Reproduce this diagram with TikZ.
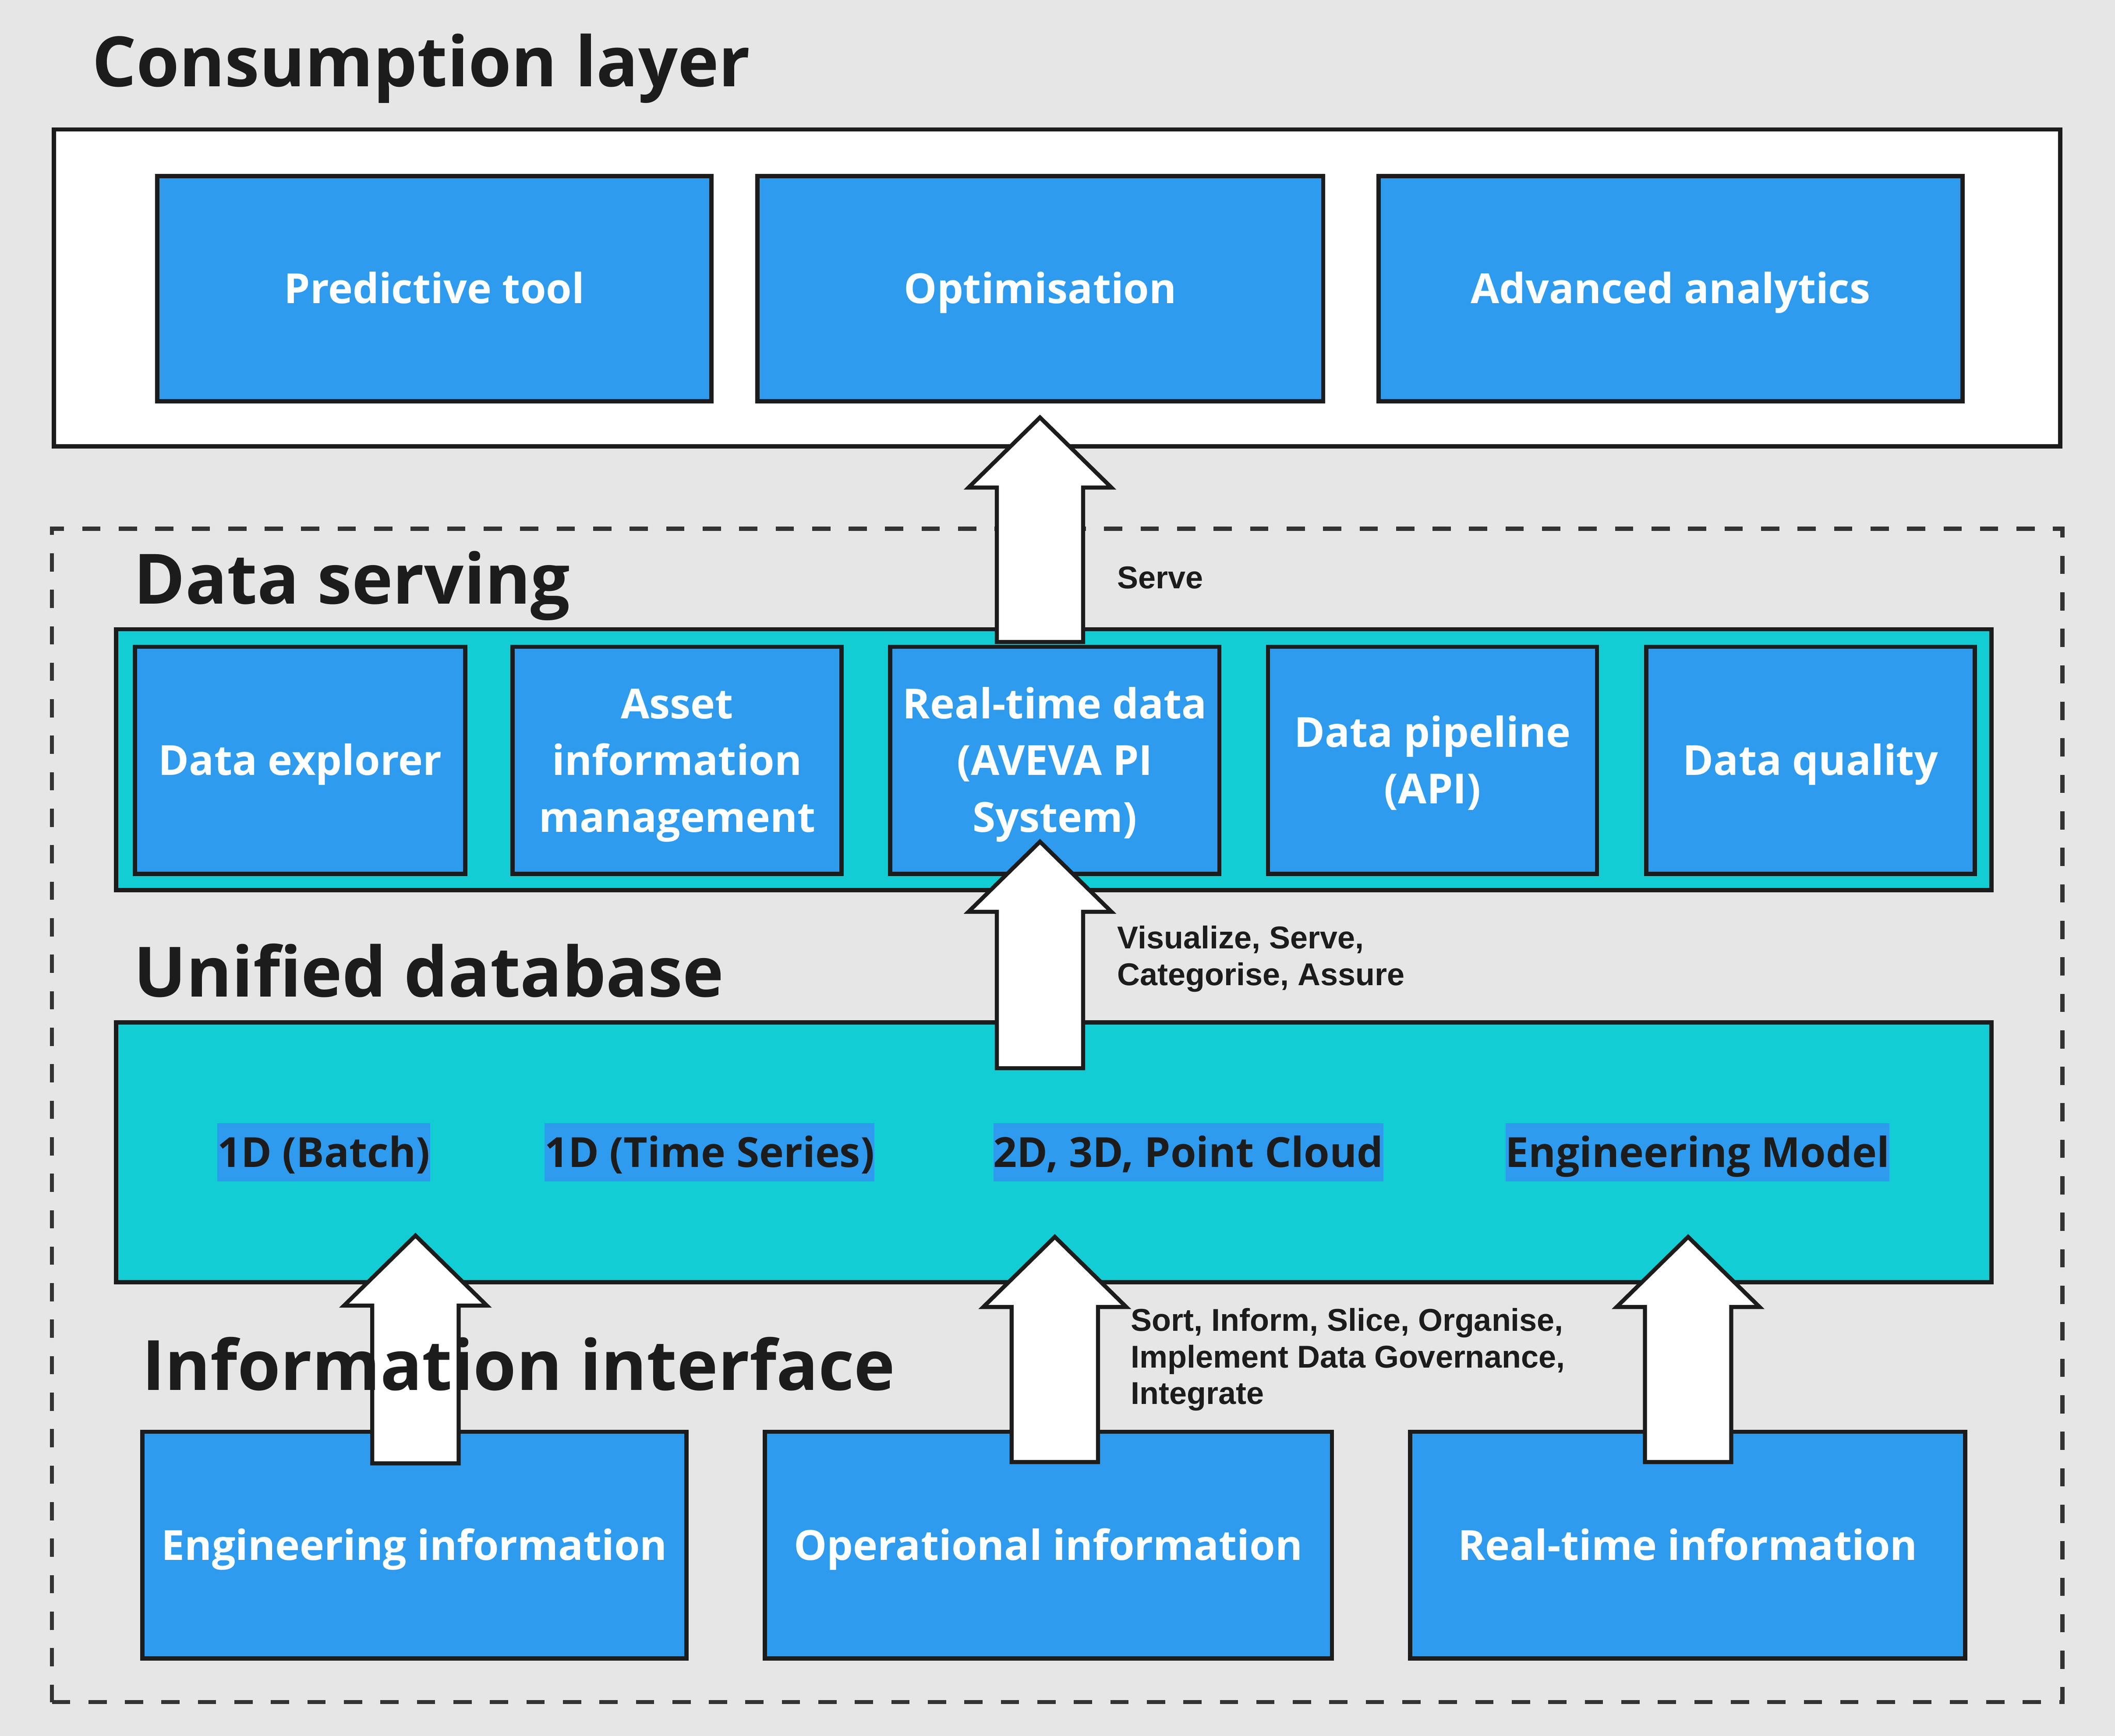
\documentclass[tikz,border=0pt]{standalone}
\usepackage{fontspec}
\setmainfont{Open Sans}
\newfontfamily\labelfont{Liberation Sans}
\usetikzlibrary{calc,fit}

\definecolor{bgGray}{HTML}{E6E6E6}
\definecolor{boxBlue}{HTML}{2E9BEE}
\definecolor{dbTeal}{HTML}{13CDD4}
\definecolor{inkBlack}{HTML}{1C1C1C}
\definecolor{dashGray}{HTML}{333333}

\tikzset{
  layertitle/.style={anchor=base west,inner sep=0pt,text=inkBlack,font=\fontsize{29.3}{35}\selectfont\bfseries},
  panel/.style={draw=inkBlack,line width=1.8pt,inner sep=0pt},
  tile/.style={draw=inkBlack,line width=1.8pt,fill=boxBlue,text=white,inner sep=0pt,align=center,
    font=\fontsize{17.5}{24}\selectfont\bfseries,text height=12.6pt,text depth=0pt},
  tile2/.style={tile,text height=36.6pt},
  tile3/.style={tile,text height=60.6pt},
  hl/.style={fill=boxBlue,text=inkBlack,inner xsep=0pt,inner ysep=0pt,minimum height=0.864cm,
    font=\fontsize{17.5}{24}\selectfont\bfseries,text height=12.6pt,text depth=0pt},
  verbs/.style={anchor=base west,inner sep=0pt,align=left,text=inkBlack,
    font=\labelfont\fontsize{13.3}{15.4}\selectfont\bfseries},
  bigarrow/.style={fill=white,draw=inkBlack,line width=1.7pt},
  dashframe/.style={draw=dashGray,line width=1.7pt,dash pattern=on 7.7pt off 7.7pt,inner sep=0pt}
}

\newcommand\blockarrow[2]{%
  \draw[bigarrow] ($(#1)+(-32,0)$) -- ($(#2)+(-32,52)$) -- ($(#2)+(-53,52)$) -- (#2)
    -- ($(#2)+(53,52)$) -- ($(#2)+(32,52)$) -- ($(#1)+(32,0)$) -- cycle;}

\begin{document}
\begin{tikzpicture}[x=0.02cm,y=-0.02cm]
  \fill[bgGray] (0,0) rectangle (1568,1287);
  \useasboundingbox (0,0) rectangle (1568,1287);

  % consumption layer
  \node[panel,fill=white,fit={(40,96) (1527.5,331)}] (consumption) {};
  \node[tile,minimum width=8.22cm,minimum height=3.34cm] (predictive) at (322,214) {Predictive tool};
  \node[tile,minimum width=8.39cm,minimum height=3.34cm] (optimisation) at (771.25,214) {Optimisation};
  \node[tile,minimum width=8.66cm,minimum height=3.34cm] (analytics) at (1238.5,214) {Advanced analytics};

  % dashed frame round the lower layers
  \node[dashframe,fit={(38.5,392) (1529,1262)}] (platform) {};

  % data serving
  \node[panel,fill=dbTeal,fit={(86,466.5) (1476.5,660)}] (servingBand) {};
  \node[tile,minimum width=4.9cm,minimum height=3.37cm] (explorer) at (222.5,563.75) {Data explorer};
  \node[tile3,minimum width=4.88cm,minimum height=3.37cm] (assetInfo) at (502,563.75) {Asset\\information\\management};
  \node[tile3,minimum width=4.88cm,minimum height=3.37cm] (realtimeData) at (782,563.75) {Real-time data\\(AVEVA PI\\System)};
  \node[tile2,minimum width=4.88cm,minimum height=3.37cm] (pipeline) at (1062,563.75) {Data pipeline\\(API)};
  \node[tile,minimum width=4.87cm,minimum height=3.37cm] (quality) at (1342.25,563.75) {Data quality};

  % unified database
  \node[panel,fill=dbTeal,fit={(86,758) (1476.5,950.5)}] (unifiedBand) {};
  \node[hl] (batch) at (240,854.2) {1D (Batch)};
  \node[hl] (timeSeries) at (526,854.2) {1D (Time Series)};
  \node[hl] (pointCloud) at (881,854.2) {2D, 3D, Point Cloud};
  \node[hl] (engModel) at (1258.5,854.2) {Engineering Model};

  % information interface
  \node[tile,minimum width=8.07cm,minimum height=3.36cm] (engInfo) at (307.25,1145.5) {Engineering information};
  \node[tile,minimum width=8.41cm,minimum height=3.36cm] (opInfo) at (777.25,1145.5) {Operational information};
  \node[tile,minimum width=8.23cm,minimum height=3.36cm] (rtInfo) at (1251.25,1145.5) {Real-time information};

  % block arrows
  \coordinate (serveTail) at (771,476);
  \coordinate (serveTip) at (771,309.5);
  \coordinate (visTail) at (771,792);
  \coordinate (visTip) at (771,624);
  \coordinate (engTail) at (308,1085);
  \coordinate (engTip) at (308,916);
  \coordinate (opTail) at (782,1084);
  \coordinate (opTip) at (782,917);
  \coordinate (rtTail) at (1251.5,1084);
  \coordinate (rtTip) at (1251.5,917);
  \blockarrow{serveTail}{serveTip}
  \blockarrow{visTail}{visTip}
  \blockarrow{engTail}{engTip}
  \blockarrow{opTail}{opTip}
  \blockarrow{rtTail}{rtTip}

  % titles and labels
  \node[layertitle] (consTitle) at (68,64) {Consumption layer};
  \node[layertitle] (servTitle) at (99,447.6) {Data serving};
  \node[layertitle] (unifTitle) at (99,738.9) {Unified database};
  \node[layertitle] (infoTitle) at (105,1030.5) {Information interface};
  \node[verbs] (serveLbl) at (828,436.4) {Serve};
  \node[verbs] (visLbl) at (828,730.5) {Visualize, Serve,\\Categorise, Assure};
  \node[verbs] (sortLbl) at (838,1041) {Sort, Inform, Slice, Organise,\\Implement Data Governance,\\Integrate};
\end{tikzpicture}
\end{document}
